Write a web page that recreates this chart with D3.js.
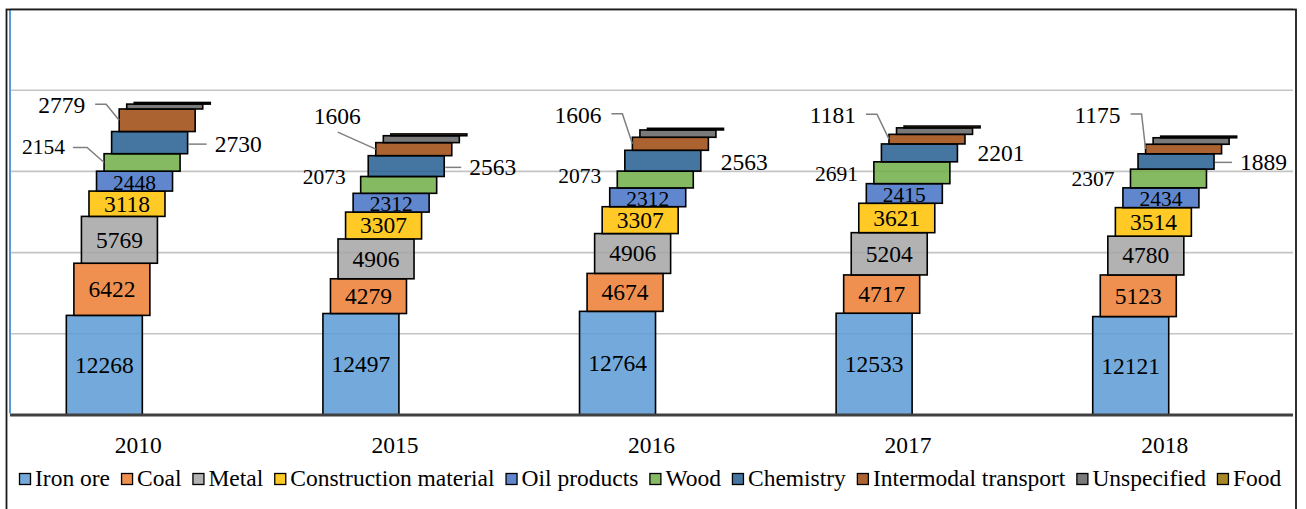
<!DOCTYPE html>
<html>
<head>
<meta charset="utf-8">
<script src="https://cdn.jsdelivr.net/npm/d3@7/dist/d3.min.js"></script>
<style>
  html, body { margin: 0; padding: 0; background: #fff; }
  svg { display: block; }
</style>
</head>
<body>
<svg id="chart" width="1306" height="509" font-family="'Liberation Serif', 'DejaVu Serif', 'Times New Roman', Times, serif"></svg>
<script>
// Rail freight by cargo type, thousand tonnes
const years = ["2010", "2015", "2016", "2017", "2018"];
const seriesNames = ["Iron ore", "Coal", "Metal", "Construction material", "Oil products",
                     "Wood", "Chemistry", "Intermodal transport", "Unspecified", "Food"];
const ironOre      = [12268, 12497, 12764, 12533, 12121];
const coal         = [6422, 4279, 4674, 4717, 5123];
const metal        = [5769, 4906, 4906, 5204, 4780];
const construction = [3118, 3307, 3307, 3621, 3514];
const oilProducts  = [2448, 2312, 2312, 2415, 2434];
const wood         = [2154, 2073, 2073, 2691, 2307];
const chemistry    = [2730, 2563, 2563, 2201, 1889];
const intermodal   = [2779, 1606, 1606, 1181, 1175];
const unspecified  = [600, 850, 900, 800, 800];
const food         = [200, 220, 200, 220, 200];
const yTicks = [10000, 20000, 30000, 40000, 50000];

const seriesValues = [ironOre, coal, metal, construction, oilProducts,
                      wood, chemistry, intermodal, unspecified, food];
const colors = ["#5B9BD5", "#ED7D31", "#A5A5A5", "#FFC000", "#4472C4",
                "#70AD47", "#255E91", "#9E480E", "#636363", "#997300"];

// label placement for the small upper segments (offsets from the segment edge / centre)
const woodLabel  = [{dx: -39, dy: -15, lead: true}, {dx: -15, dy: -7.5}, {dx: -16, dy: -4},
                    {dx: -16, dy: 1.7}, {dx: -16, dy: 0}];
const chemLabel  = [{dx: 27, dy: 1.5}, {dx: 25, dy: 1.3}, {dx: 20, dy: 1.7},
                    {dx: 20, dy: 0.5}, {dx: 26, dy: 0.9}];
const interLabel = [{dx: -34, dy: -15, lead: "elbow"}, {dx: -15, dy: -33, lead: "below"},
                    {dx: -31, dy: -29, lead: "elbow"}, {dx: -33, dy: -24, lead: "elbow"},
                    {dx: -25, dy: -34, lead: "elbow"}];

const FONT = "'Liberation Serif', 'DejaVu Serif', 'Times New Roman', Times, serif";
const svg = d3.select("#chart");
const plotLeft = 10, plotRight = 1293, plotTop = 9, plotBottom = 415;

const x = d3.scaleBand().domain(years).range([plotLeft, plotRight]).padding(0);
const y = d3.scaleLinear().domain([0, 50000]).range([plotBottom, plotTop]);

const segWidth = 76, segShift = 7.55;
const groupWidth = segWidth + segShift * (seriesNames.length - 1);

// horizontal gridlines
svg.append("g").selectAll("line").data(yTicks).join("line")
  .attr("x1", plotLeft).attr("x2", plotRight)
  .attr("y1", d => y(d)).attr("y2", d => y(d))
  .attr("stroke", "#C4C4C4").attr("stroke-width", 1.6);

// stacked, stepped segments
const segments = [];
years.forEach((yr, j) => {
  let cum = 0;
  const left0 = x(yr) + x.bandwidth() / 2 - groupWidth / 2;
  seriesValues.forEach((vals, i) => {
    const v = vals[j];
    segments.push({
      year: j, series: i, value: v,
      x0: left0 + i * segShift, x1: left0 + i * segShift + segWidth,
      yTop: y(cum + v), yBot: y(cum)
    });
    cum += v;
  });
});

svg.append("g").selectAll("rect").data(segments).join("rect")
  .attr("x", d => d.x0).attr("y", d => d.yTop)
  .attr("width", segWidth).attr("height", d => d.yBot - d.yTop)
  .attr("fill", d => colors[d.series]).attr("fill-opacity", 0.85)
  .attr("stroke", "#000").attr("stroke-width", 1.6);

// category axis line
svg.append("line")
  .attr("x1", plotLeft).attr("x2", plotRight)
  .attr("y1", plotBottom).attr("y2", plotBottom)
  .attr("stroke", "#404040").attr("stroke-width", 3);

// value axis line
svg.append("line")
  .attr("x1", plotLeft).attr("x2", plotLeft)
  .attr("y1", plotTop).attr("y2", plotBottom - 1.5)
  .attr("stroke", "#5B9BD5").attr("stroke-width", 2);

const seg = (j, i) => segments[j * seriesNames.length + i];
const mid = s => (s.yTop + s.yBot) / 2;

// values inside the lower five segments
const inside = segments.filter(s => s.series <= 4);
svg.append("g").selectAll("text").data(inside).join("text")
  .attr("font-family", FONT)
  .attr("x", d => (d.x0 + d.x1) / 2)
  .attr("y", d => mid(d) + (d.series === 4 ? 8.5 : 7.8))
  .attr("text-anchor", "middle")
  .attr("font-size", d => d.series === 4 ? 21.5 : 23.5)
  .text(d => d.value);

const leaders = svg.append("g").attr("fill", "none")
  .attr("stroke", "#7F7F7F").attr("stroke-width", 1.5);
const labels = svg.append("g").attr("font-family", FONT);

years.forEach((yr, j) => {
  // Wood
  const w = seg(j, 5), wl = woodLabel[j];
  const wx = w.x0 + wl.dx, wy = mid(w) + wl.dy;
  labels.append("text").attr("x", wx).attr("y", wy + 7)
    .attr("text-anchor", "end").attr("font-size", 21.5).text(w.value);
  if (wl.lead) {
    leaders.append("path").attr("d", d3.line()([[wx + 8, wy], [wx + 22, wy], [w.x0, mid(w)]]));
  }

  // Chemistry
  const c = seg(j, 6), cl = chemLabel[j];
  const cx = c.x1 + cl.dx, cy = mid(c) + cl.dy;
  labels.append("text").attr("x", cx).attr("y", cy + 7.8)
    .attr("text-anchor", "start").attr("font-size", 23.5).text(c.value);
  if (cl.dx > 22) {
    leaders.append("path").attr("d", d3.line()([[c.x1 + 1, cy], [cx - 8, cy]]));
  }

  // Intermodal transport
  const t = seg(j, 7), tl = interLabel[j];
  const tx = t.x0 + tl.dx, ty = mid(t) + tl.dy;
  labels.append("text").attr("x", tx).attr("y", ty + 7.8)
    .attr("text-anchor", "end").attr("font-size", 23.5).text(t.value);
  if (tl.lead === "elbow") {
    leaders.append("path").attr("d", d3.line()([[tx + 10, ty - 1], [tx + 21, ty - 1], [t.x0, mid(t)]]));
  } else if (tl.lead === "below") {
    leaders.append("path").attr("d", d3.line()([[tx - 23, ty + 16], [t.x0, mid(t)]]));
  }
});

// year labels
svg.append("g").attr("font-family", FONT).selectAll("text").data(years).join("text")
  .attr("x", d => x(d) + x.bandwidth() / 2).attr("y", 453)
  .attr("text-anchor", "middle").attr("font-size", 23.5)
  .text(d => d);

// legend
const legend = svg.append("g").attr("font-family", FONT);
let lx = 19.5;
seriesNames.forEach((name, i) => {
  legend.append("rect").attr("x", lx).attr("y", 473.5).attr("width", 11).attr("height", 11)
    .attr("fill", colors[i]).attr("fill-opacity", 0.85)
    .attr("stroke", "#000").attr("stroke-width", 1.3);
  const t = legend.append("text").attr("x", lx + 15.5).attr("y", 485.5)
    .attr("font-size", 23.5).text(name);
  lx += 15.5 + t.node().getComputedTextLength() + 11.5;
});

// outer frame
svg.append("rect").attr("x", 6.5).attr("y", 9.5).attr("width", 1289.5).attr("height", 520)
  .attr("fill", "none").attr("stroke", "#1A1A1A").attr("stroke-width", 1.8);
</script>
</body>
</html>
